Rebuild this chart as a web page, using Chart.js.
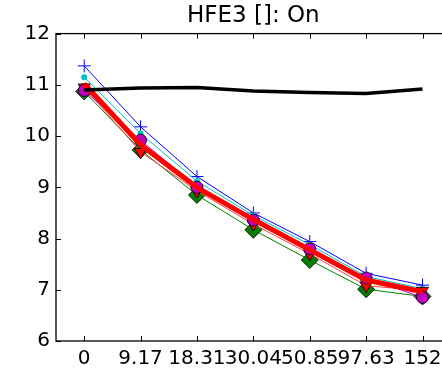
<!DOCTYPE html>
<html>
<head>
<meta charset="utf-8">
<script src="https://cdn.jsdelivr.net/npm/chart.js@4/dist/chart.umd.min.js"></script>
<style>
  html, body { margin: 0; padding: 0; background: #fff; overflow: hidden; }
  #wrap { width: 460px; height: 369px; }
</style>
</head>
<body>
<div id="wrap"><canvas id="c"></canvas></div>
<script>
const labels = ['0', '9.17', '18.31', '30.04', '50.85', '97.63', '152'];
const yTicks = [6, 7, 8, 9, 10, 11, 12];

const blue    = [11.37, 10.18, 9.21, 8.50, 7.94, 7.32, 7.09];
const cyan    = [11.15, 10.05, 9.12, 8.45, 7.88, 7.26, 7.02];
const green   = [10.87, 9.73, 8.85, 8.17, 7.58, 7.01, 6.87];
const redTri  = [10.95, 9.69, 8.93, 8.28, 7.70, 7.08, 6.98];
const magenta = [10.89, 9.92, 9.00, 8.36, 7.80, 7.23, 6.85];
const redBold = [11.02, 9.83, 9.00, 8.37, 7.78, 7.19, 6.96];
const black   = [10.90, 10.94, 10.95, 10.88, 10.85, 10.83, 10.92];

// matplotlib-ish frame with inward ticks
const frame = {
  id: 'frame',
  afterDraw(chart) {
    const ctx = chart.ctx, a = chart.chartArea;
    const x = chart.scales.x, y = chart.scales.y;
    ctx.save();
    ctx.strokeStyle = '#000';
    ctx.lineWidth = 1.3;
    ctx.strokeRect(a.left, a.top, a.right - a.left, a.bottom - a.top);
    ctx.lineWidth = 1;
    ctx.beginPath();
    labels.forEach((l, i) => {
      const px = Math.round(x.getPixelForValue(i)) + 0.5;
      ctx.moveTo(px, a.bottom); ctx.lineTo(px, a.bottom - 5);
      ctx.moveTo(px, a.top); ctx.lineTo(px, a.top + 5);
    });
    yTicks.forEach(v => {
      const py = Math.round(y.getPixelForValue(v)) + 0.5;
      ctx.moveTo(a.left, py); ctx.lineTo(a.left + 5, py);
      ctx.moveTo(a.right, py); ctx.lineTo(a.right - 5, py);
    });
    ctx.stroke();
    ctx.restore();
  }
};

new Chart(document.getElementById('c'), {
  type: 'line',
  data: {
    labels: labels,
    datasets: [
      { data: black, borderColor: '#000', borderWidth: 3.5, pointRadius: 0, order: 1 },
      { data: redBold, borderColor: '#ff0000', borderWidth: 5, pointRadius: 0, order: 2 },
      { data: magenta, borderColor: '#bf00bf', borderWidth: 1, pointStyle: 'circle', pointRadius: 6,
        pointBackgroundColor: '#bf00bf', pointBorderColor: '#000', pointBorderWidth: 0.8, order: 3 },
      { data: redTri, borderColor: '#ff4040', borderWidth: 1, pointStyle: 'triangle', pointRotation: 180, pointRadius: 7,
        pointBackgroundColor: '#ff0000', pointBorderColor: '#000', pointBorderWidth: 0.8, order: 4 },
      { data: green, borderColor: '#008000', borderWidth: 1, pointStyle: 'rectRot', pointRadius: 8.5,
        pointBackgroundColor: '#007f00', pointBorderColor: '#000', pointBorderWidth: 0.8, order: 5 },
      { data: cyan, borderColor: '#00bfbf', borderWidth: 1, pointStyle: 'circle', pointRadius: 3,
        pointBackgroundColor: '#00bfbf', pointBorderColor: '#00bfbf', pointBorderWidth: 0, order: 6 },
      { data: blue, borderColor: '#0000ff', borderWidth: 1, pointStyle: 'cross', pointRadius: 6.5,
        pointBorderColor: '#0000ff', pointBorderWidth: 1, order: 7 }
    ]
  },
  options: {
    responsive: true,
    maintainAspectRatio: false,
    animation: false,
    devicePixelRatio: 1,
    layout: { padding: { top: 0, right: 7, bottom: 0, left: 0 } },
    elements: { line: { tension: 0 } },
    plugins: {
      legend: { display: false },
      tooltip: { enabled: false },
      title: {
        display: true, text: 'HFE3 []: On', fullSize: false, color: '#000',
        font: { family: 'DejaVu Sans', size: 23, weight: 'normal' },
        padding: { top: 2, bottom: 4 }
      }
    },
    scales: {
      x: {
        type: 'category', offset: true,
        grid: { display: false, drawTicks: false },
        border: { display: false },
        ticks: { color: '#000', padding: 6, maxRotation: 0, autoSkip: false,
          font: { family: 'DejaVu Sans', size: 20 } },
        afterFit(s) { s.height = 28; }
      },
      y: {
        min: 6, max: 12,
        grid: { display: false, drawTicks: false },
        border: { display: false },
        ticks: { color: '#000', padding: 6, stepSize: 1,
          font: { family: 'DejaVu Sans', size: 20 } },
        afterBuildTicks(s) { s.ticks = yTicks.map(v => ({ value: v })); },
        afterFit(s) { s.width = 56; }
      }
    }
  },
  plugins: [frame]
});
</script>
</body>
</html>
